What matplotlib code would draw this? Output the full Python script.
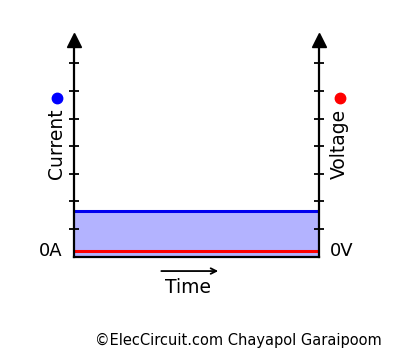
import matplotlib.pyplot as plt

# dados
tempo = [0, 1]
corrente = [1.65, 1.65]
tensao = [0.2, 0.2]
marcas_y = [1, 2, 3, 4, 5, 6, 7]

W, H = 400, 363
fig = plt.figure(figsize=(W / 100, H / 100), dpi=100)
# eixo em pixels da imagem original
x0, x1 = 74, 319
y_base, y_topo = 256.7, 40
ax = fig.add_axes([x0 / W, 1 - y_base / H, (x1 - x0) / W, (y_base - y_topo) / H])
ax.set_xlim(0, 1)
ax.set_ylim(0, 7.85)

ax.fill_between(tempo, 0, corrente, color="#b3b3ff", lw=0)
ax.plot(tempo, corrente, color="#0000ee", lw=2.2)
ax.plot(tempo, tensao, color="#ff0000", lw=2.2)

for lado in ["left", "right", "bottom"]:
    ax.spines[lado].set_linewidth(1.6)
    ax.spines[lado].set_color("black")
ax.spines["top"].set_visible(False)
ax.set_xticks([])
ax.set_yticks(marcas_y)
ax.set_yticklabels([])
ax.yaxis.set_ticks_position("both")
ax.tick_params(axis="y", direction="inout", length=7, width=1.3, color="black")

# pontas de seta
ax.plot([0, 1], [7.85, 7.85], ls="none", marker="^", ms=9.5, color="black", clip_on=False)

ax.text(-0.045, 0.2, "0A", ha="right", va="center", fontsize=13, transform=ax.transData)
ax.text(1.045, 0.2, "0V", ha="left", va="center", fontsize=13, transform=ax.transData)

ax.text(-0.07, 4.1, "Current", rotation=90, ha="center", va="center", fontsize=13.5)
ax.text(1.085, 4.1, "Voltage", rotation=90, ha="center", va="center", fontsize=13.5)
ax.plot([-0.07], [5.75], marker="o", ms=7.5, color="#0000ff", clip_on=False)
ax.plot([1.085], [5.75], marker="o", ms=7.5, color="#ff0000", clip_on=False)

ax.annotate("", xy=(0.6, -0.52), xytext=(0.345, -0.52),
            arrowprops=dict(arrowstyle="->", color="black", lw=1.3), annotation_clip=False)
ax.text(0.465, -1.12, "Time", ha="center", va="center", fontsize=13.5)

fig.text(382 / W, 1 - 340 / H, "©ElecCircuit.com Chayapol Garaipoom", ha="right", va="center", fontsize=10.5)

fig.savefig("out.png", dpi=100, facecolor="white")
